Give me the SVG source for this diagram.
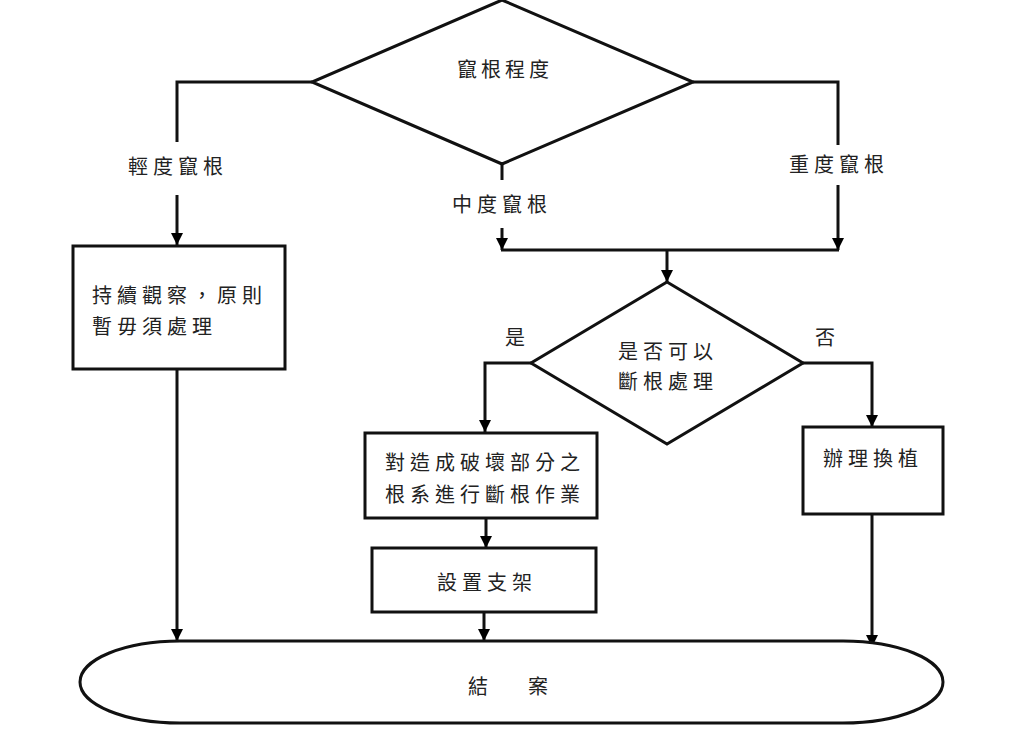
<svg xmlns="http://www.w3.org/2000/svg" width="1024" height="741" viewBox="0 0 1024 741">
<defs>
<marker id="arr" markerUnits="userSpaceOnUse" markerWidth="12" markerHeight="12" refX="12" refY="6" orient="auto">
<path d="M0,0 L12,6 L0,12 z" fill="#000"/>
</marker>
<style>
.s{fill:#fff;stroke:#111;stroke-width:3}
.c{fill:none;stroke:#111;stroke-width:3}
.a{marker-end:url(#arr)}
text{font-family:"Noto Sans CJK TC","Noto Sans CJK SC",sans-serif;font-size:20px;fill:#222;letter-spacing:5px}
</style>
</defs>
<rect width="1024" height="741" fill="#fff"/>
<g id="connectors">
<polyline class="c" points="312,82 177,82 177,142"/>
<line class="c a" x1="177" y1="195" x2="177" y2="245"/>
<polyline class="c" points="693,82 838,82 838,145"/>
<line class="c a" x1="838" y1="185" x2="838" y2="250"/>
<line class="c" x1="502" y1="164" x2="502" y2="180"/>
<line class="c a" x1="502" y1="228" x2="502" y2="250"/>
<line class="c" x1="501" y1="250" x2="839" y2="250"/>
<line class="c a" x1="667" y1="250" x2="667" y2="282"/>
<polyline class="c a" points="531,363 485,363 485,432"/>
<polyline class="c a" points="803,363 872,363 872,427"/>
<line class="c a" x1="486" y1="518" x2="486" y2="548"/>
<line class="c a" x1="484" y1="612" x2="484" y2="641"/>
<line class="c a" x1="177" y1="369" x2="177" y2="641"/>
<line class="c a" x1="872" y1="514" x2="872" y2="647"/>
<text x="128" y="174">輕度竄根</text>
<text x="452" y="212">中度竄根</text>
<text x="789" y="172">重度竄根</text>
<text x="505" y="345">是</text>
<text x="815" y="345">否</text>
</g>
<g id="n-degree">
<polygon class="s" points="502,0 693,82 502,164 312,82"/>
<text x="457" y="77" style="letter-spacing:4px">竄根程度</text>
</g>
<g id="n-observe">
<rect class="s" x="73" y="246" width="212" height="123"/>
<text x="92" y="303">持續觀察，原則</text>
<text x="92" y="334">暫毋須處理</text>
</g>
<g id="n-decide">
<polygon class="s" points="667,282 803,363 667,444 531,363"/>
<text x="618" y="359">是否可以</text>
<text x="618" y="389">斷根處理</text>
</g>
<g id="n-cut">
<rect class="s" x="365" y="433" width="232" height="85"/>
<text x="385" y="470">對造成破壞部分之</text>
<text x="385" y="502">根系進行斷根作業</text>
</g>
<g id="n-support">
<rect class="s" x="372" y="548" width="224" height="64"/>
<text x="437" y="590">設置支架</text>
</g>
<g id="n-replant">
<rect class="s" x="803" y="427" width="140" height="87"/>
<text x="823" y="466">辦理換植</text>
</g>
<g id="n-end">
<rect class="s" x="80" y="641" width="863" height="82" rx="100" ry="41"/>
<text x="468" y="694" style="letter-spacing:40px">結案</text>
</g>
</svg>
